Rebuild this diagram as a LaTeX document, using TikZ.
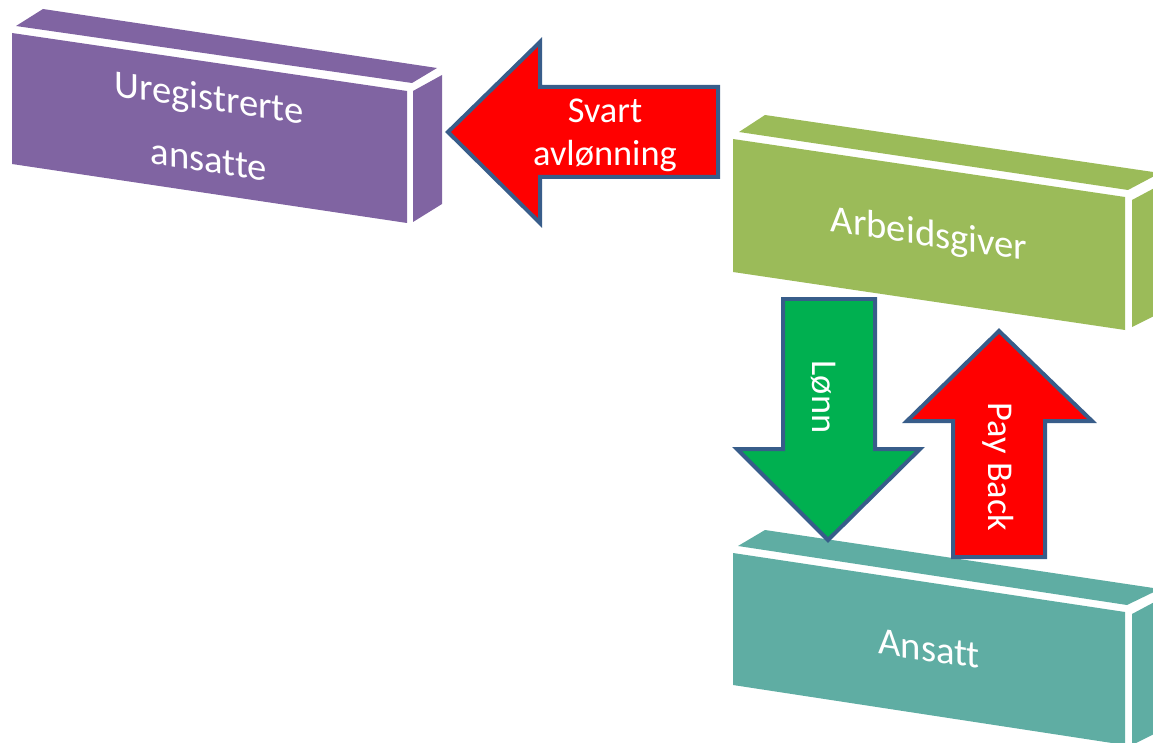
\documentclass[tikz,border=0pt]{standalone}
\usepackage{fontspec}
\setmainfont{Carlito}[Ligatures={NoCommon}]
\definecolor{boxpurple}{RGB}{128,100,162}
\definecolor{boxgreen}{RGB}{155,187,89}
\definecolor{boxteal}{RGB}{95,173,163}
\definecolor{arrred}{RGB}{255,0,0}
\definecolor{arrgreen}{RGB}{0,176,80}
\definecolor{arrline}{RGB}{56,93,138}
\tikzset{
  face/.style={fill=#1, draw=none},
  blockarrow/.style={fill=#1, draw=arrline, line width=0.08cm, line join=miter},
  boxtext/.style={text=white, inner sep=0pt, align=center, yslant=-0.147, font=\fontsize{22}{35.5}\selectfont},
  arrowtext/.style={text=white, inner sep=0pt, align=center, font=\fontsize{20.7}{24.6}\selectfont}
}
\begin{document}
\begin{tikzpicture}[x=0.02cm,y=-0.02cm]
\useasboundingbox (0,0) rectangle (1153,743);
\begin{scope}
\clip (0,0) rectangle (1153,743);
% purple box
\fill[face=boxpurple] (12,33) -- (407,91) -- (407,223) -- (12,164) -- cycle;
\fill[face=boxpurple] (16,26) -- (43,9) -- (437,68) -- (412,83) -- cycle;
\fill[face=boxpurple] (413,91) -- (442,75) -- (442,204) -- (413,222) -- cycle;
% green box
\fill[face=boxgreen] (733,139) -- (1125,197) -- (1125,330) -- (733,272) -- cycle;
\fill[face=boxgreen] (739,132) -- (765,115) -- (1160,173) -- (1128,190) -- cycle;
\fill[face=boxgreen] (1132,200) -- (1162,184) -- (1162,312) -- (1132,327) -- cycle;
% teal box
\fill[face=boxteal] (733,553) -- (1125,612) -- (1125,745) -- (733,685) -- cycle;
\fill[face=boxteal] (738,546) -- (765,530) -- (1160,589) -- (1127,605) -- cycle;
\fill[face=boxteal] (1132,614) -- (1162,598) -- (1162,730) -- (1132,745) -- cycle;
\end{scope}
% box texts
\node[boxtext] (ureg) at (209,128) {Uregistrerte\\ansatte};
\node[boxtext] (arb) at (929,236) {Arbeidsgiver};
\node[boxtext] (ans) at (929,649) {Ansatt};
% block arrows
\draw[blockarrow=arrred] (448,132) -- (540,42) -- (540,87) -- (718,87) -- (718,177) -- (540,177) -- (540,223) -- cycle;
\draw[blockarrow=arrgreen] (783,299) -- (875,299) -- (875,449) -- (920,449) -- (828,540) -- (737,449) -- (783,449) -- cycle;
\draw[blockarrow=arrred] (999,331) -- (1092,421) -- (1045,421) -- (1045,557) -- (953,557) -- (953,421) -- (907,421) -- cycle;
% arrow texts
\node[arrowtext] (svart) at (605,135) {Svart\\avlønning};
\node[arrowtext, rotate=-90] (lonn) at (824,397) {Lønn};
\node[arrowtext, rotate=-90] (payback) at (998,467) {Pay Back};
\end{tikzpicture}
\end{document}
